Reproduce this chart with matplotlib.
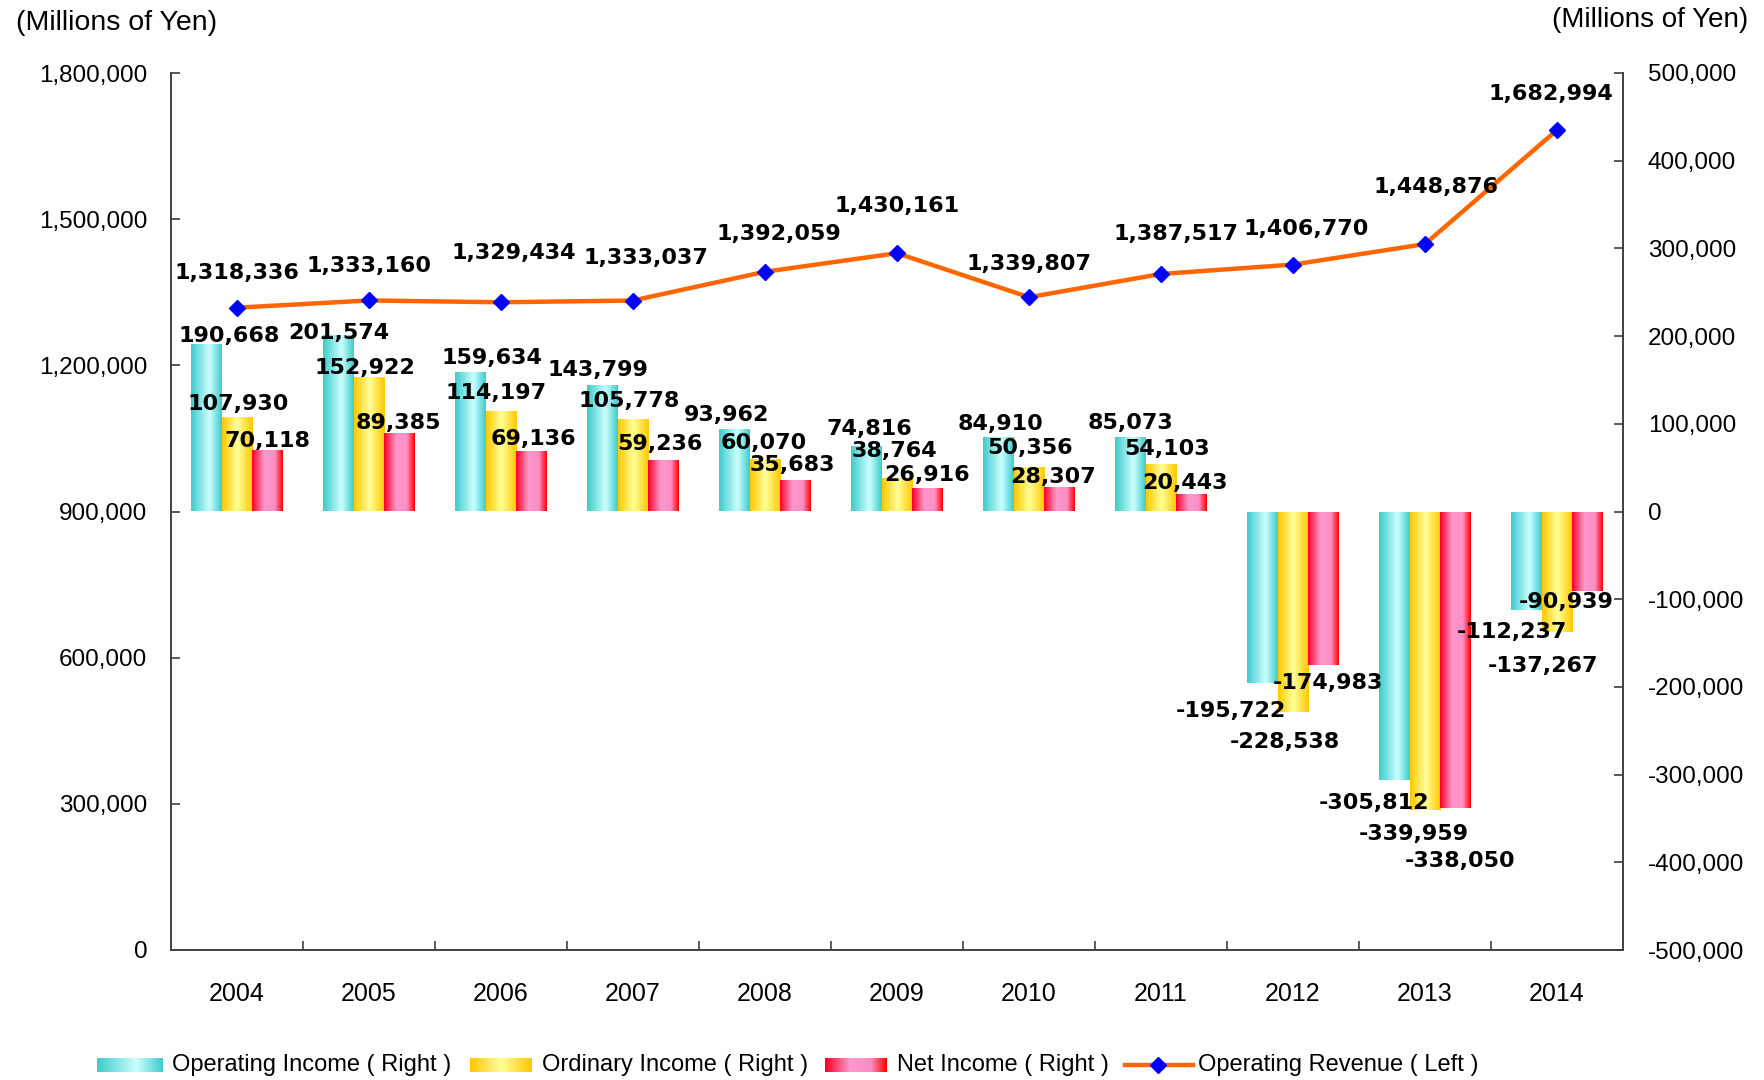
import numpy as np
import matplotlib
matplotlib.use("Agg")
import matplotlib.pyplot as plt
from matplotlib.colors import LinearSegmentedColormap
from matplotlib.lines import Line2D
from matplotlib.ticker import FuncFormatter, MultipleLocator, FixedLocator

# data (millions of yen)
years = ["2004", "2005", "2006", "2007", "2008", "2009", "2010", "2011", "2012", "2013", "2014"]
operating_revenue = [1318336, 1333160, 1329434, 1333037, 1392059, 1430161, 1339807, 1387517, 1406770, 1448876, 1682994]
operating_income = [190668, 201574, 159634, 143799, 93962, 74816, 84910, 85073, -195722, -305812, -112237]
ordinary_income = [107930, 152922, 114197, 105778, 60070, 38764, 50356, 54103, -228538, -339959, -137267]
net_income = [70118, 89385, 69136, 59236, 35683, 26916, 28307, 20443, -174983, -338050, -90939]

# hand placed label nudges (pixels), like the original sheet
line_lbl_off = [(0, 35), (0, 34), (13, 49), (13, 43), (14, 38), (0, 47), (0, 33), (15, 40), (13, 36), (11, 57), (-6, 36)]
op_lbl_off = [(23, 8), (0, 2), (21, 14), (-5, 15), (-8, 14), (3, 17), (2, 13), (0, 14), (-32, -28), (-21, -23), (-15, -22)]
ord_lbl_off = [(1, 13), (-4, 9), (-5, 18), (-4, 18), (-1, 16), (-3, 27), (1, 19), (6, 15), (-8, -30), (-11, -24), (-14, -34)]
net_lbl_off = [(0, 9), (-1, 10), (2, 12), (-3, 16), (-3, 15), (0, 13), (-6, 10), (-6, 11), (5, -18), (5, -53), (-21, -11)]

cm_cyan = LinearSegmentedColormap.from_list("c", [(0, "#3ECCCC"), (0.6, "#CCFFFF"), (1, "#3ECCCC")])
cm_yel = LinearSegmentedColormap.from_list("y", [(0, "#FFC800"), (0.5, "#FFFF99"), (1, "#FFC800")])
cm_red = LinearSegmentedColormap.from_list("r", [(0, "#FF0028"), (0.4, "#FF99CC"), (0.75, "#FF8CC4"), (1, "#FF0000")])
grad = np.linspace(0, 1, 64).reshape(1, -1)

TXT = "Liberation Sans"
LBL = dict(family="DejaVu Sans", fontweight="bold", fontsize=16)

fig = plt.figure(figsize=(17.65, 10.8), dpi=100)
ax = fig.add_axes([171 / 1765, 130 / 1080, (1623 - 171) / 1765, (950 - 73) / 1080])
ax2 = ax.twinx()

x = np.arange(len(years))
w = 0.23

# bars on right axis
for off, vals, cm, offs in [(-w, operating_income, cm_cyan, op_lbl_off),
                            (0, ordinary_income, cm_yel, ord_lbl_off),
                            (w, net_income, cm_red, net_lbl_off)]:
    bars = ax2.bar(x + off, vals, w, facecolor="none", edgecolor="none")
    for r, v, (dx, dy) in zip(bars, vals, offs):
        x0, y0 = r.get_x(), r.get_y()
        im = ax2.imshow(grad, cmap=cm, extent=[x0, x0 + r.get_width(), min(y0, y0 + r.get_height()), max(y0, y0 + r.get_height())],
                        aspect="auto", interpolation="bilinear", zorder=2)
        im.set_clip_path(r)
        ax2.annotate("{:,}".format(v), (x0 + r.get_width() / 2, v), xytext=(dx, dy), textcoords="offset pixels",
                     ha="center", va="center", zorder=5, **LBL)

ax2.set_xlim(-0.5, len(years) - 0.5)
ax2.set_ylim(-500000, 500000)
ax2.yaxis.set_major_locator(MultipleLocator(100000))
ax2.yaxis.set_major_formatter(FuncFormatter(lambda v, p: "{:,}".format(int(v))))

# line on left axis
ax.plot(x, operating_revenue, color="#FF6600", lw=3.2, marker="D", ms=8, mfc="#0000FF", mec="#0000FF", zorder=4)
for xi, v, (dx, dy) in zip(x, operating_revenue, line_lbl_off):
    ax.annotate("{:,}".format(v), (xi, v), xytext=(dx, dy), textcoords="offset pixels",
                ha="center", va="center", zorder=5, **LBL)
ax.set_zorder(ax2.get_zorder() + 1)
ax.patch.set_visible(False)
ax.set_xlim(-0.5, len(years) - 0.5)
ax.set_ylim(0, 1800000)
ax.yaxis.set_major_locator(MultipleLocator(300000))
ax.yaxis.set_major_formatter(FuncFormatter(lambda v, p: "{:,}".format(int(v))))

ax.set_xticks(x)
ax.set_xticklabels(years)
ax.xaxis.set_minor_locator(FixedLocator(x[:-1] + 0.5))

for a in (ax, ax2):
    a.spines["top"].set_visible(False)
    for s in ("left", "right", "bottom"):
        a.spines[s].set_color("#404040")
        a.spines[s].set_linewidth(1.2)
    for lab in a.get_yticklabels() + a.get_xticklabels():
        lab.set_family(TXT)
        lab.set_fontsize(17.5)
ax.tick_params(axis="y", direction="in", length=6.5, width=1.2, color="#404040", pad=17)
ax2.tick_params(axis="y", direction="in", length=6.5, width=1.2, color="#404040", pad=18)
ax.tick_params(axis="x", which="major", length=0, pad=23, labelsize=18)
ax.tick_params(axis="x", which="minor", direction="in", length=6.5, width=1.2, color="#404040")
ax2.tick_params(axis="x", which="both", bottom=False, labelbottom=False)

fig.text(16 / 1765, 1 - 23 / 1080, "(Millions of Yen)", family=TXT, fontsize=20.5, ha="left", va="center")
fig.text(1748 / 1765, 1 - 20 / 1080, "(Millions of Yen)", family=TXT, fontsize=20, ha="right", va="center")

# legend drawn by hand so the swatches keep the gradient
ly = 1 - 1065 / 1080
for (x0, x1, tx), cm, label in [((97, 163, 172), cm_cyan, "Operating Income ( Right )"),
                                ((470, 532, 542), cm_yel, "Ordinary Income ( Right )"),
                                ((825, 887, 897), cm_red, "Net Income ( Right )")]:
    sw = fig.add_axes([x0 / 1765, 8 / 1080, (x1 - x0) / 1765, 14 / 1080])
    sw.imshow(grad, cmap=cm, aspect="auto", interpolation="bilinear")
    sw.axis("off")
    fig.text(tx / 1765, ly, label, family=TXT, fontsize=17, ha="left", va="center")
fig.add_artist(Line2D([1125 / 1765, 1193 / 1765], [ly, ly], transform=fig.transFigure, color="#FF6600", lw=3.2))
fig.add_artist(Line2D([1158 / 1765], [ly], transform=fig.transFigure, marker="D", ms=8, mfc="#0000FF", mec="#0000FF"))
fig.text(1198 / 1765, ly, "Operating Revenue ( Left )", family=TXT, fontsize=17, ha="left", va="center")

fig.savefig("out.png", dpi=100)
